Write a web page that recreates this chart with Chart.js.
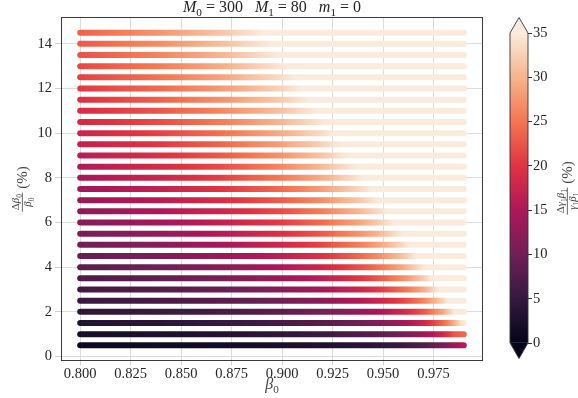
<!DOCTYPE html>
<html>
<head>
<meta charset="utf-8">
<script src="https://cdn.jsdelivr.net/npm/chart.js@4"></script>
<style>
  html, body { margin: 0; padding: 0; background: #fff; }
  #wrap { position: relative; width: 578px; height: 398px; }
  #wrap canvas { position: absolute; left: 0; top: 0; }
</style>
</head>
<body>
<div id="wrap">
  <canvas id="mainChart" width="578" height="398"></canvas>
  <canvas id="cbarChart" width="578" height="398"></canvas>
</div>
<script>
const betaKnots = [0.80, 0.84, 0.87, 0.90, 0.92, 0.94, 0.95, 0.96, 0.97, 0.98, 0.985, 0.99];
// row heights: delta beta0 / beta0 (%)
const betaErr = [0.5, 1.0, 1.5, 2.0, 2.5, 3.0, 3.5, 4.0, 4.5, 5.0, 5.5, 6.0, 6.5, 7.0, 7.5,
  8.0, 8.5, 9.0, 9.5, 10.0, 10.5, 11.0, 11.5, 12.0, 12.5, 13.0, 13.5, 14.0, 14.5];
// delta(gamma1 beta1) / gamma1 beta1 (%) along each row, at betaKnots
const gbErr = [
  [1.1, 1.4, 1.7, 2.3, 2.9, 3.7, 4.4, 5.4, 7.3, 10.5, 13.3, 16],
  [2.2, 2.7, 3.4, 4.5, 5.5, 7.3, 8.6, 10.4, 13.3, 18.3, 22.5, 24],
  [3.3, 4.0, 5.0, 6.5, 8.0, 10.3, 12.0, 14.4, 18.0, 24.4, 29.3, 36],
  [4.3, 5.3, 6.6, 8.4, 10.3, 13.2, 15.3, 18.2, 22.5, 29.3, 34.6, 40],
  [5.3, 6.6, 8.1, 10.2, 12.4, 15.8, 18.2, 21.4, 26.0, 33.2, 38.9, 44],
  [6.2, 7.7, 9.5, 12.0, 14.5, 18.2, 20.8, 24.4, 29.3, 36.9, 42, 47],
  [7.2, 8.9, 10.8, 13.6, 16.4, 20.4, 23.2, 26.9, 32.1, 40, 45, 50],
  [8.1, 10.0, 12.1, 15.2, 18.1, 22.4, 25.4, 29.3, 34.7, 43, 48, 52],
  [9.0, 11.1, 13.3, 16.7, 19.8, 24.4, 27.5, 31.5, 36.9, 45, 50, 54],
  [9.9, 12.2, 14.5, 18.1, 21.4, 26.1, 29.4, 33.5, 39.0, 47, 52, 56],
  [10.7, 13.2, 15.7, 19.5, 22.9, 27.8, 31.1, 35.3, 41, 49, 54, 58],
  [11.6, 14.1, 16.9, 20.7, 24.3, 29.4, 32.8, 37.0, 43, 51, 56, 60],
  [12.4, 15.1, 17.9, 22.0, 25.7, 30.9, 34.3, 38.6, 45, 53, 58, 62],
  [13.2, 16.1, 19.0, 23.2, 27.0, 32.3, 35.8, 40.1, 46, 55, 59, 63],
  [14.0, 17.0, 20.0, 24.3, 28.3, 33.6, 37.1, 41.5, 48, 56, 61, 65],
  [14.8, 17.8, 21.0, 25.4, 29.4, 34.9, 38.5, 43, 49, 58, 62, 66],
  [15.5, 18.7, 21.9, 26.5, 30.6, 36.1, 39.7, 44, 50, 59, 63, 67],
  [16.2, 19.5, 22.9, 27.5, 31.6, 37.2, 41, 45, 52, 60, 64, 68],
  [17.0, 20.4, 23.8, 28.5, 32.7, 38.3, 42, 46, 53, 61, 65, 69],
  [17.7, 21.2, 24.7, 29.4, 33.6, 39.3, 43, 47, 54, 62, 66, 70],
  [18.4, 21.9, 25.5, 30.3, 34.6, 40.3, 44, 48, 55, 63, 67, 71],
  [19.0, 22.7, 26.4, 31.3, 35.6, 41.2, 45, 49, 56, 64, 68, 72],
  [19.7, 23.5, 27.2, 32.1, 36.5, 42.1, 46, 50, 57, 65, 69, 73],
  [20.4, 24.2, 27.9, 32.9, 37.3, 43.0, 47, 51, 58, 66, 70, 74],
  [21.0, 24.9, 28.7, 33.7, 38.2, 43.8, 48, 52, 59, 67, 70, 74],
  [21.6, 25.6, 29.4, 34.6, 39.0, 44.6, 48, 53, 60, 67, 71, 75],
  [22.3, 26.2, 30.2, 35.3, 39.8, 45.4, 49, 54, 61, 68, 72, 76],
  [22.9, 26.9, 30.9, 36.0, 40.5, 46.2, 50, 55, 61, 69, 72, 76],
  [23.5, 27.6, 31.6, 36.8, 41.2, 47.0, 51, 56, 62, 69, 73, 77],
];
const xTicks = [0.800, 0.825, 0.850, 0.875, 0.900, 0.925, 0.950, 0.975];
const yTicks = [0, 2, 4, 6, 8, 10, 12, 14];
const cbTicks = [0, 5, 10, 15, 20, 25, 30, 35];

const SERIF = '"Liberation Serif", "DejaVu Serif", serif';
const ROCKET = ["#03051a", "#35193e", "#701f57", "#ad1759", "#e13342", "#f37651", "#f6b48f", "#faebdd"];
const VMIN = cbTicks[0], VMAX = cbTicks[cbTicks.length - 1];

function hexRgb(h) {
  return [1, 3, 5].map((i) => parseInt(h.substr(i, 2), 16));
}

function rocket(v) {
  const t = ((Math.max(VMIN, Math.min(VMAX, v)) - VMIN) / (VMAX - VMIN)) * (ROCKET.length - 1);
  const i = Math.min(ROCKET.length - 2, Math.floor(t));
  const f = t - i;
  const a = hexRgb(ROCKET[i]), b = hexRgb(ROCKET[i + 1]);
  const c = a.map((ch, k) => Math.round(ch + f * (b[k] - ch)));
  return `rgb(${c[0]},${c[1]},${c[2]})`;
}

// horizontal gradient for one row, placed with the x scale
function rowGradient(chart, vals) {
  const xs = chart.scales.x;
  if (!chart.chartArea || !xs) return rocket(vals[0]);
  const p0 = xs.getPixelForValue(betaKnots[0]);
  const p1 = xs.getPixelForValue(betaKnots[betaKnots.length - 1]);
  const g = chart.ctx.createLinearGradient(p0, 0, p1, 0);
  for (let i = 0; i < betaKnots.length - 1; i++) {
    for (let k = 0; k < 6; k++) {
      const f = k / 6;
      const b = betaKnots[i] + f * (betaKnots[i + 1] - betaKnots[i]);
      const v = vals[i] + f * (vals[i + 1] - vals[i]);
      g.addColorStop((xs.getPixelForValue(b) - p0) / (p1 - p0), rocket(v));
    }
  }
  g.addColorStop(1, rocket(vals[vals.length - 1]));
  return g;
}

// --- little mathtext helpers ---
function fontFor(st, size) {
  const it = st.includes("i") ? "italic " : "";
  const sz = st.includes("s") ? size * 0.7 : size;
  return `${it}${sz}px ${SERIF}`;
}
function measureRuns(ctx, runs, size) {
  let w = 0;
  for (const [t, st] of runs) {
    ctx.font = fontFor(st, size);
    w += ctx.measureText(t).width;
  }
  return w;
}
function drawRuns(ctx, runs, x, y, size) {
  ctx.textAlign = "left";
  ctx.textBaseline = "alphabetic";
  for (const [t, st] of runs) {
    ctx.font = fontFor(st, size);
    const dy = st.includes("s") ? size * 0.22 : 0;
    ctx.fillText(t, x, y + dy);
    x += ctx.measureText(t).width;
  }
  return x;
}
function fracWidth(ctx, num, den, size) {
  const s = size * 0.72;
  return Math.max(measureRuns(ctx, num, s), measureRuns(ctx, den, s)) + 3;
}
function drawFrac(ctx, num, den, x, axisY, size) {
  const s = size * 0.72;
  const wn = measureRuns(ctx, num, s), wd = measureRuns(ctx, den, s);
  const w = Math.max(wn, wd) + 3;
  ctx.fillRect(x, axisY - 0.4, w, 0.8);
  drawRuns(ctx, num, x + (w - wn) / 2, axisY - s * 0.28, s);
  drawRuns(ctx, den, x + (w - wd) / 2, axisY + s * 0.82, s);
  return x + w;
}
// fraction followed by " (%)", rotated to read bottom to top
function drawRotatedFracLabel(ctx, num, den, cx, cy, size, color) {
  ctx.save();
  ctx.fillStyle = color;
  ctx.translate(cx, cy);
  ctx.rotate(-Math.PI / 2);
  const tail = [[" (%)", ""]];
  const w = fracWidth(ctx, num, den, size) + measureRuns(ctx, tail, size);
  const base = size * 0.32;
  const x = drawFrac(ctx, num, den, -w / 2, base - size * 0.3, size);
  drawRuns(ctx, tail, x, base, size);
  ctx.restore();
}

const mainDecor = {
  id: "mainDecor",
  afterDraw(chart) {
    const { ctx, chartArea: a } = chart;
    ctx.save();
    // box spines
    ctx.strokeStyle = "#3a3a3a";
    ctx.lineWidth = 1;
    ctx.strokeRect(a.left + 0.5, a.top + 0.5, a.right - a.left - 1, a.bottom - a.top - 1);

    // title
    const title = [["M", "i"], ["0", "s"], [" = 300   ", ""], ["M", "i"], ["1", "s"], [" = 80   ", ""], ["m", "i"], ["1", "s"], [" = 0", ""]];
    ctx.fillStyle = "#222";
    const tw = measureRuns(ctx, title, 16);
    drawRuns(ctx, title, (a.left + a.right) / 2 - tw / 2, 12, 16);

    // x label
    ctx.fillStyle = "#444";
    const xl = [["β", "i"], ["0", "s"]];
    const xw = measureRuns(ctx, xl, 16);
    drawRuns(ctx, xl, (a.left + a.right) / 2 - xw / 2, 389, 16);
    ctx.restore();

    // y label
    drawRotatedFracLabel(ctx, [["Δ", ""], ["β", "i"], ["0", "s"]], [["β", "i"], ["0", "s"]], 22, (a.top + a.bottom) / 2, 15, "#444");
  },
};

const datasets = betaErr.map((row, r) => ({
  data: betaKnots.map((b) => ({ x: b, y: row })),
  borderColor: (ctx) => rowGradient(ctx.chart, gbErr[r]),
  borderWidth: 6,
  borderCapStyle: "round",
  pointRadius: 0,
  fill: false,
  tension: 0,
}));

const tickFont = { family: SERIF, size: 14.5 };

new Chart(document.getElementById("mainChart"), {
  type: "line",
  data: { datasets },
  options: {
    responsive: false,
    animation: false,
    layout: { padding: { top: 17, right: 95, left: 0, bottom: 0 } },
    plugins: { legend: { display: false }, tooltip: { enabled: false } },
    scales: {
      x: {
        type: "linear",
        min: 0.7905,
        max: 0.9995,
        afterBuildTicks: (s) => { s.ticks = xTicks.map((v) => ({ value: v })); },
        afterFit: (s) => { s.height = 37; },
        grid: { color: "#dcdcdc", tickColor: "#cfcfcf", tickLength: 4 },
        border: { display: false },
        ticks: {
          font: tickFont,
          color: "#262626",
          padding: 0,
          maxRotation: 0,
          autoSkip: false,
          callback: (v) => Number(v).toFixed(3),
        },
      },
      y: {
        type: "linear",
        min: -0.2,
        max: 15.2,
        afterBuildTicks: (s) => { s.ticks = yTicks.map((v) => ({ value: v })); },
        afterFit: (s) => { s.width = 61; },
        grid: { color: "#dcdcdc", tickColor: "#cfcfcf", tickLength: 6 },
        border: { display: false },
        ticks: { font: tickFont, color: "#262626", padding: 3, autoSkip: false },
      },
    },
  },
  plugins: [mainDecor],
});

// --- colour bar ---
function cbGradient(chart) {
  const ys = chart.scales.y;
  if (!chart.chartArea || !ys) return rocket(VMIN);
  const p0 = ys.getPixelForValue(VMIN), p1 = ys.getPixelForValue(VMAX);
  const g = chart.ctx.createLinearGradient(0, p0, 0, p1);
  for (let k = 0; k <= 70; k++) {
    g.addColorStop(k / 70, rocket(VMIN + (k / 70) * (VMAX - VMIN)));
  }
  return g;
}

const cbarDecor = {
  id: "cbarDecor",
  afterDatasetsDraw(chart) {
    const { ctx, chartArea: a } = chart;
    const ys = chart.scales.y;
    const top = ys.getPixelForValue(VMAX), bot = ys.getPixelForValue(VMIN);
    const ext = (bot - top) * 0.05;
    const cx = (a.left + a.right) / 2;
    ctx.save();
    ctx.fillStyle = rocket(VMAX);
    ctx.beginPath();
    ctx.moveTo(a.left, top + 0.5); ctx.lineTo(cx, top - ext); ctx.lineTo(a.right, top + 0.5);
    ctx.closePath(); ctx.fill();
    ctx.fillStyle = rocket(VMIN);
    ctx.beginPath();
    ctx.moveTo(a.left, bot - 0.5); ctx.lineTo(cx, bot + ext); ctx.lineTo(a.right, bot - 0.5);
    ctx.closePath(); ctx.fill();
    ctx.strokeStyle = "#333";
    ctx.lineWidth = 0.9;
    ctx.beginPath();
    ctx.moveTo(a.left, top); ctx.lineTo(cx, top - ext); ctx.lineTo(a.right, top);
    ctx.lineTo(a.right, bot); ctx.lineTo(cx, bot + ext); ctx.lineTo(a.left, bot);
    ctx.closePath(); ctx.stroke();
    ctx.restore();

    drawRotatedFracLabel(ctx,
      [["Δ", ""], ["γ", "i"], ["1", "s"], ["β", "i"], ["1", "s"]],
      [["γ", "i"], ["1", "s"], ["β", "i"], ["1", "s"]],
      567, (top + bot) / 2, 15, "#444");
  },
};

new Chart(document.getElementById("cbarChart"), {
  type: "bar",
  data: {
    labels: ["cb"],
    datasets: [{
      data: [[VMIN, VMAX]],
      backgroundColor: (ctx) => cbGradient(ctx.chart),
      borderWidth: 0,
      barPercentage: 1,
      categoryPercentage: 1,
    }],
  },
  options: {
    responsive: false,
    animation: false,
    layout: { padding: { left: 510, top: 33, bottom: 55, right: 0 } },
    plugins: { legend: { display: false }, tooltip: { enabled: false } },
    scales: {
      x: { display: false },
      y: {
        position: "right",
        min: VMIN,
        max: VMAX,
        afterBuildTicks: (s) => { s.ticks = cbTicks.map((v) => ({ value: v })); },
        afterFit: (s) => { s.width = 50; },
        grid: { drawOnChartArea: false, tickLength: 4, tickColor: "#333", color: "#333" },
        border: { display: false },
        ticks: { font: tickFont, color: "#262626", padding: 1, autoSkip: false },
      },
    },
  },
  plugins: [cbarDecor],
});
</script>
</body>
</html>
